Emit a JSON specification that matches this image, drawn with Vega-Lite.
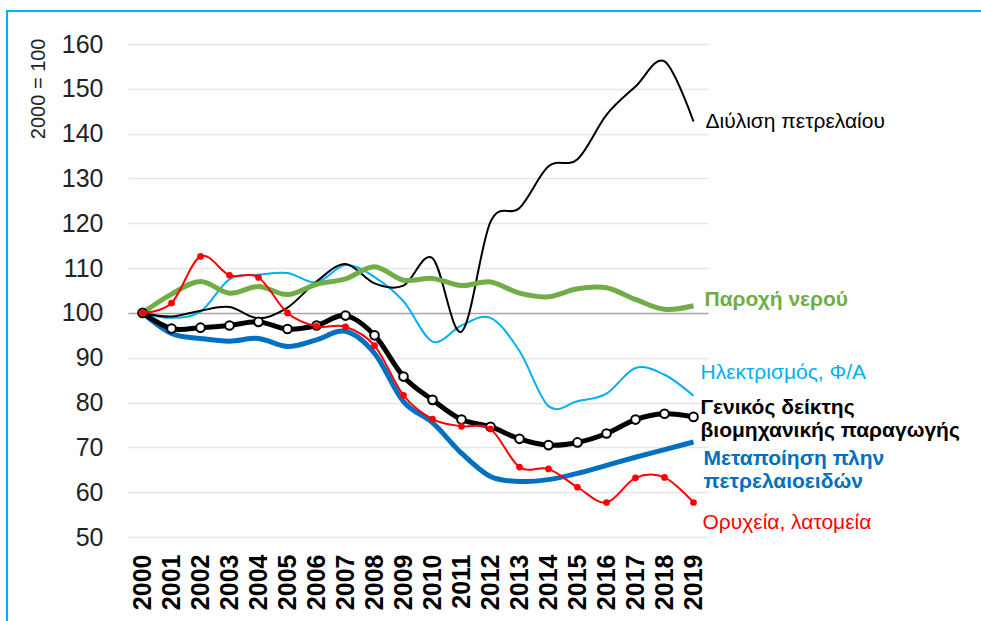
{
  "$schema": "https://vega.github.io/schema/vega-lite/v6.json",
  "width": 974,
  "height": 610,
  "autosize": {"type": "none"},
  "padding": {"left": 7, "top": 11, "right": 0, "bottom": 0},
  "background": "white",
  "config": {
    "view": {"stroke": "#00B0F0", "strokeWidth": 2, "strokeDash": [974, 1584, 610]},
    "font": "Liberation Sans"
  },
  "data": {"values": [
    {"year": "2000", "series": "Διύλιση πετρελαίου", "value": 100},
    {"year": "2001", "series": "Διύλιση πετρελαίου", "value": 99.2},
    {"year": "2002", "series": "Διύλιση πετρελαίου", "value": 100.5},
    {"year": "2003", "series": "Διύλιση πετρελαίου", "value": 101.3},
    {"year": "2004", "series": "Διύλιση πετρελαίου", "value": 98.8},
    {"year": "2005", "series": "Διύλιση πετρελαίου", "value": 101.2},
    {"year": "2006", "series": "Διύλιση πετρελαίου", "value": 107},
    {"year": "2007", "series": "Διύλιση πετρελαίου", "value": 110.9},
    {"year": "2008", "series": "Διύλιση πετρελαίου", "value": 106.6},
    {"year": "2009", "series": "Διύλιση πετρελαίου", "value": 106.1},
    {"year": "2010", "series": "Διύλιση πετρελαίου", "value": 112.2},
    {"year": "2011", "series": "Διύλιση πετρελαίου", "value": 95.8},
    {"year": "2012", "series": "Διύλιση πετρελαίου", "value": 120.3},
    {"year": "2013", "series": "Διύλιση πετρελαίου", "value": 123.4},
    {"year": "2014", "series": "Διύλιση πετρελαίου", "value": 132.7},
    {"year": "2015", "series": "Διύλιση πετρελαίου", "value": 134.3},
    {"year": "2016", "series": "Διύλιση πετρελαίου", "value": 144.2},
    {"year": "2017", "series": "Διύλιση πετρελαίου", "value": 150.5},
    {"year": "2018", "series": "Διύλιση πετρελαίου", "value": 156.1},
    {"year": "2019", "series": "Διύλιση πετρελαίου", "value": 142.7},

    {"year": "2000", "series": "Παροχή νερού", "value": 100},
    {"year": "2001", "series": "Παροχή νερού", "value": 104.2},
    {"year": "2002", "series": "Παροχή νερού", "value": 107},
    {"year": "2003", "series": "Παροχή νερού", "value": 104.4},
    {"year": "2004", "series": "Παροχή νερού", "value": 105.9},
    {"year": "2005", "series": "Παροχή νερού", "value": 104.1},
    {"year": "2006", "series": "Παροχή νερού", "value": 106.4},
    {"year": "2007", "series": "Παροχή νερού", "value": 107.6},
    {"year": "2008", "series": "Παροχή νερού", "value": 110.3},
    {"year": "2009", "series": "Παροχή νερού", "value": 107.3},
    {"year": "2010", "series": "Παροχή νερού", "value": 107.7},
    {"year": "2011", "series": "Παροχή νερού", "value": 106.1},
    {"year": "2012", "series": "Παροχή νερού", "value": 106.9},
    {"year": "2013", "series": "Παροχή νερού", "value": 104.4},
    {"year": "2014", "series": "Παροχή νερού", "value": 103.6},
    {"year": "2015", "series": "Παροχή νερού", "value": 105.4},
    {"year": "2016", "series": "Παροχή νερού", "value": 105.6},
    {"year": "2017", "series": "Παροχή νερού", "value": 103},
    {"year": "2018", "series": "Παροχή νερού", "value": 100.8},
    {"year": "2019", "series": "Παροχή νερού", "value": 101.6},

    {"year": "2000", "series": "Ηλεκτρισμός, Φ/Α", "value": 100},
    {"year": "2001", "series": "Ηλεκτρισμός, Φ/Α", "value": 98.9},
    {"year": "2002", "series": "Ηλεκτρισμός, Φ/Α", "value": 100.3},
    {"year": "2003", "series": "Ηλεκτρισμός, Φ/Α", "value": 107.5},
    {"year": "2004", "series": "Ηλεκτρισμός, Φ/Α", "value": 108.5},
    {"year": "2005", "series": "Ηλεκτρισμός, Φ/Α", "value": 108.9},
    {"year": "2006", "series": "Ηλεκτρισμός, Φ/Α", "value": 106.8},
    {"year": "2007", "series": "Ηλεκτρισμός, Φ/Α", "value": 110.7},
    {"year": "2008", "series": "Ηλεκτρισμός, Φ/Α", "value": 108},
    {"year": "2009", "series": "Ηλεκτρισμός, Φ/Α", "value": 102.6},
    {"year": "2010", "series": "Ηλεκτρισμός, Φ/Α", "value": 93.6},
    {"year": "2011", "series": "Ηλεκτρισμός, Φ/Α", "value": 97.2},
    {"year": "2012", "series": "Ηλεκτρισμός, Φ/Α", "value": 98.9},
    {"year": "2013", "series": "Ηλεκτρισμός, Φ/Α", "value": 91.5},
    {"year": "2014", "series": "Ηλεκτρισμός, Φ/Α", "value": 79.2},
    {"year": "2015", "series": "Ηλεκτρισμός, Φ/Α", "value": 80.3},
    {"year": "2016", "series": "Ηλεκτρισμός, Φ/Α", "value": 82},
    {"year": "2017", "series": "Ηλεκτρισμός, Φ/Α", "value": 87.7},
    {"year": "2018", "series": "Ηλεκτρισμός, Φ/Α", "value": 86.2},
    {"year": "2019", "series": "Ηλεκτρισμός, Φ/Α", "value": 81.5},

    {"year": "2000", "series": "Γενικός δείκτης\nβιομηχανικής παραγωγής", "value": 100},
    {"year": "2001", "series": "Γενικός δείκτης\nβιομηχανικής παραγωγής", "value": 96.5},
    {"year": "2002", "series": "Γενικός δείκτης\nβιομηχανικής παραγωγής", "value": 96.7},
    {"year": "2003", "series": "Γενικός δείκτης\nβιομηχανικής παραγωγής", "value": 97.2},
    {"year": "2004", "series": "Γενικός δείκτης\nβιομηχανικής παραγωγής", "value": 98},
    {"year": "2005", "series": "Γενικός δείκτης\nβιομηχανικής παραγωγής", "value": 96.4},
    {"year": "2006", "series": "Γενικός δείκτης\nβιομηχανικής παραγωγής", "value": 97.2},
    {"year": "2007", "series": "Γενικός δείκτης\nβιομηχανικής παραγωγής", "value": 99.4},
    {"year": "2008", "series": "Γενικός δείκτης\nβιομηχανικής παραγωγής", "value": 95},
    {"year": "2009", "series": "Γενικός δείκτης\nβιομηχανικής παραγωγής", "value": 85.8},
    {"year": "2010", "series": "Γενικός δείκτης\nβιομηχανικής παραγωγής", "value": 80.6},
    {"year": "2011", "series": "Γενικός δείκτης\nβιομηχανικής παραγωγής", "value": 76.2},
    {"year": "2012", "series": "Γενικός δείκτης\nβιομηχανικής παραγωγής", "value": 74.6},
    {"year": "2013", "series": "Γενικός δείκτης\nβιομηχανικής παραγωγής", "value": 71.9},
    {"year": "2014", "series": "Γενικός δείκτης\nβιομηχανικής παραγωγής", "value": 70.5},
    {"year": "2015", "series": "Γενικός δείκτης\nβιομηχανικής παραγωγής", "value": 71.1},
    {"year": "2016", "series": "Γενικός δείκτης\nβιομηχανικής παραγωγής", "value": 73.1},
    {"year": "2017", "series": "Γενικός δείκτης\nβιομηχανικής παραγωγής", "value": 76.2},
    {"year": "2018", "series": "Γενικός δείκτης\nβιομηχανικής παραγωγής", "value": 77.5},
    {"year": "2019", "series": "Γενικός δείκτης\nβιομηχανικής παραγωγής", "value": 76.8},

    {"year": "2000", "series": "Μεταποίηση πλην\nπετρελαιοειδών", "value": 100},
    {"year": "2001", "series": "Μεταποίηση πλην\nπετρελαιοειδών", "value": 95.4},
    {"year": "2002", "series": "Μεταποίηση πλην\nπετρελαιοειδών", "value": 94.3},
    {"year": "2003", "series": "Μεταποίηση πλην\nπετρελαιοειδών", "value": 93.7},
    {"year": "2004", "series": "Μεταποίηση πλην\nπετρελαιοειδών", "value": 94.3},
    {"year": "2005", "series": "Μεταποίηση πλην\nπετρελαιοειδών", "value": 92.5},
    {"year": "2006", "series": "Μεταποίηση πλην\nπετρελαιοειδών", "value": 94},
    {"year": "2007", "series": "Μεταποίηση πλην\nπετρελαιοειδών", "value": 95.9},
    {"year": "2008", "series": "Μεταποίηση πλην\nπετρελαιοειδών", "value": 91},
    {"year": "2009", "series": "Μεταποίηση πλην\nπετρελαιοειδών", "value": 80.2},
    {"year": "2010", "series": "Μεταποίηση πλην\nπετρελαιοειδών", "value": 75.5},
    {"year": "2011", "series": "Μεταποίηση πλην\nπετρελαιοειδών", "value": 68.7},
    {"year": "2012", "series": "Μεταποίηση πλην\nπετρελαιοειδών", "value": 63.5},
    {"year": "2013", "series": "Μεταποίηση πλην\nπετρελαιοειδών", "value": 62.4},
    {"year": "2014", "series": "Μεταποίηση πλην\nπετρελαιοειδών", "value": 62.8},
    {"year": "2015", "series": "Μεταποίηση πλην\nπετρελαιοειδών", "value": 64.2},
    {"year": "2016", "series": "Μεταποίηση πλην\nπετρελαιοειδών", "value": 66},
    {"year": "2017", "series": "Μεταποίηση πλην\nπετρελαιοειδών", "value": 67.8},
    {"year": "2018", "series": "Μεταποίηση πλην\nπετρελαιοειδών", "value": 69.5},
    {"year": "2019", "series": "Μεταποίηση πλην\nπετρελαιοειδών", "value": 71.2},

    {"year": "2000", "series": "Ορυχεία, λατομεία", "value": 100},
    {"year": "2001", "series": "Ορυχεία, λατομεία", "value": 102.2},
    {"year": "2002", "series": "Ορυχεία, λατομεία", "value": 112.6},
    {"year": "2003", "series": "Ορυχεία, λατομεία", "value": 108.4},
    {"year": "2004", "series": "Ορυχεία, λατομεία", "value": 107.9},
    {"year": "2005", "series": "Ορυχεία, λατομεία", "value": 100},
    {"year": "2006", "series": "Ορυχεία, λατομεία", "value": 97},
    {"year": "2007", "series": "Ορυχεία, λατομεία", "value": 96.9},
    {"year": "2008", "series": "Ορυχεία, λατομεία", "value": 92.7},
    {"year": "2009", "series": "Ορυχεία, λατομεία", "value": 81.6},
    {"year": "2010", "series": "Ορυχεία, λατομεία", "value": 76.3},
    {"year": "2011", "series": "Ορυχεία, λατομεία", "value": 74.7},
    {"year": "2012", "series": "Ορυχεία, λατομεία", "value": 74.1},
    {"year": "2013", "series": "Ορυχεία, λατομεία", "value": 65.6},
    {"year": "2014", "series": "Ορυχεία, λατομεία", "value": 65.2},
    {"year": "2015", "series": "Ορυχεία, λατομεία", "value": 61.1},
    {"year": "2016", "series": "Ορυχεία, λατομεία", "value": 57.7},
    {"year": "2017", "series": "Ορυχεία, λατομεία", "value": 63.2},
    {"year": "2018", "series": "Ορυχεία, λατομεία", "value": 63.3},
    {"year": "2019", "series": "Ορυχεία, λατομεία", "value": 57.7}
  ]},
  "encoding": {
    "x": {
      "field": "year", "type": "ordinal",
      "scale": {"type": "band", "range": [121, 701], "paddingInner": 0, "paddingOuter": 0},
      "axis": {
        "title": null, "labelAngle": 270, "labelAlign": "right", "labelBaseline": "middle",
        "labelFontSize": 25, "labelFontWeight": "bold", "labelColor": "#000000", "labelFont": "Liberation Sans",
        "labelPadding": 17, "ticks": false, "tickSize": 0, "domain": false, "grid": false,
        "offset": -84, "labelOverlap": false
      }
    },
    "y": {
      "field": "value", "type": "quantitative",
      "scale": {"domain": [50, 160], "range": [526, 33], "nice": false, "zero": false},
      "axis": {
        "title": "2000 = 100", "titleFontSize": 20, "titleFontWeight": "normal", "titleColor": "#222222",
        "titleFont": "Liberation Sans", "titleAngle": -90, "titleAlign": "right", "titleBaseline": "middle",
        "titleX": -90, "titleY": 27,
        "values": [50, 60, 70, 80, 90, 100, 110, 120, 130, 140, 150, 160],
        "labelFontSize": 25, "labelColor": "#222222", "labelFont": "Liberation Sans", "labelPadding": 25,
        "ticks": false, "tickSize": 0, "domain": false, "offset": -121, "grid": true,
        "gridColor": {"condition": {"test": "datum.value === 100", "value": "#A6A6A6"}, "value": "#E6E6E6"},
        "gridWidth": 1.5
      }
    }
  },
  "layer": [
    {
      "transform": [{"filter": "datum.series === 'Ηλεκτρισμός, Φ/Α'"}],
      "mark": {"type": "line", "interpolate": "cardinal", "color": "#00B0F0", "strokeWidth": 2}
    },
    {
      "transform": [{"filter": "datum.series === 'Διύλιση πετρελαίου'"}],
      "mark": {"type": "line", "interpolate": "cardinal", "color": "#000000", "strokeWidth": 2}
    },
    {
      "transform": [{"filter": "datum.series === 'Παροχή νερού'"}],
      "mark": {"type": "line", "interpolate": "cardinal", "color": "#70AD47", "strokeWidth": 5}
    },
    {
      "transform": [{"filter": "indexof(datum.series, 'Μεταποίηση') === 0"}],
      "mark": {"type": "line", "interpolate": "cardinal", "color": "#0070C0", "strokeWidth": 5}
    },
    {
      "transform": [{"filter": "indexof(datum.series, 'Γενικός') === 0"}],
      "mark": {"type": "line", "interpolate": "cardinal", "color": "#000000", "strokeWidth": 5}
    },
    {
      "transform": [{"filter": "indexof(datum.series, 'Γενικός') === 0"}],
      "mark": {"type": "point", "filled": true, "fill": "#FFFFFF", "stroke": "#000000", "strokeWidth": 2, "size": 75, "opacity": 1}
    },
    {
      "transform": [{"filter": "datum.series === 'Ορυχεία, λατομεία'"}],
      "mark": {"type": "line", "interpolate": "cardinal", "color": "#FF0000", "strokeWidth": 2}
    },
    {
      "transform": [{"filter": "datum.series === 'Ορυχεία, λατομεία'"}],
      "mark": {"type": "circle", "color": "#FF0000", "size": 45, "opacity": 1}
    },
    {
      "transform": [{"filter": "datum.series === 'Διύλιση πετρελαίου' && datum.year === '2019'"}],
      "mark": {"type": "text", "align": "left", "baseline": "middle", "dx": 12, "dy": 0, "fontSize": 21, "font": "Liberation Sans", "color": "#000000"},
      "encoding": {"text": {"field": "series"}}
    },
    {
      "transform": [{"filter": "datum.series === 'Παροχή νερού' && datum.year === '2019'"}],
      "mark": {"type": "text", "align": "left", "baseline": "middle", "dx": 11, "dy": -6, "fontSize": 21, "fontWeight": "bold", "font": "Liberation Sans", "color": "#70AD47"},
      "encoding": {"text": {"field": "series"}}
    },
    {
      "transform": [{"filter": "datum.series === 'Ηλεκτρισμός, Φ/Α' && datum.year === '2019'"}],
      "mark": {"type": "text", "align": "left", "baseline": "middle", "dx": 7, "dy": -23, "fontSize": 21, "font": "Liberation Sans", "color": "#00B0F0"},
      "encoding": {"text": {"field": "series"}}
    },
    {
      "transform": [{"filter": "indexof(datum.series, 'Γενικός') === 0 && datum.year === '2019'"}],
      "mark": {"type": "text", "align": "left", "baseline": "middle", "dx": 7, "dy": -9, "fontSize": 21, "fontWeight": "bold", "font": "Liberation Sans", "color": "#000000", "lineBreak": "\n", "lineHeight": 23},
      "encoding": {"text": {"field": "series"}}
    },
    {
      "transform": [{"filter": "indexof(datum.series, 'Μεταποίηση') === 0 && datum.year === '2019'"}],
      "mark": {"type": "text", "align": "left", "baseline": "middle", "dx": 10, "dy": 17, "fontSize": 21, "fontWeight": "bold", "font": "Liberation Sans", "color": "#0070C0", "lineBreak": "\n", "lineHeight": 23},
      "encoding": {"text": {"field": "series"}}
    },
    {
      "transform": [{"filter": "datum.series === 'Ορυχεία, λατομεία' && datum.year === '2019'"}],
      "mark": {"type": "text", "align": "left", "baseline": "middle", "dx": 9, "dy": 21, "fontSize": 21, "font": "Liberation Sans", "color": "#FF0000"},
      "encoding": {"text": {"field": "series"}}
    }
  ]
}
